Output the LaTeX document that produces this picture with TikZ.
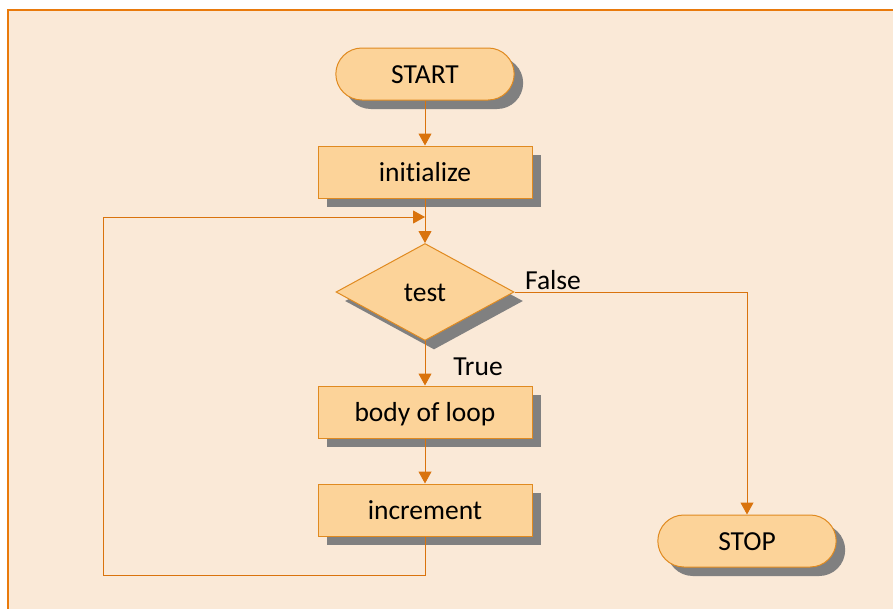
\documentclass[tikz,border=0pt]{standalone}
\usepackage{fontspec}
\setmainfont{Carlito}[Ligatures=NoCommon]
\usetikzlibrary{shapes.geometric,shapes.misc,shadows,arrows.meta}
\definecolor{bgpeach}{HTML}{FAE9D7}
\definecolor{framecol}{HTML}{E97A0C}
\definecolor{nodefill}{HTML}{FCD399}
\definecolor{nodeline}{HTML}{E08A20}
\definecolor{flowcol}{HTML}{D9730D}
\definecolor{shadowgray}{HTML}{808080}
\begin{document}
\begin{tikzpicture}[x=1pt,y=-1pt,
  font=\fontsize{27.5}{32}\selectfont,
  shade/.style={drop shadow={shadow xshift=9pt,shadow yshift=-9pt,fill=shadowgray,opacity=1}},
  base/.style={draw=nodeline,fill=nodefill,line width=1pt,text height=21pt,text depth=3pt,shade},
  box/.style={base,rectangle,minimum width=214pt,minimum height=52pt},
  term/.style={base,rounded rectangle,minimum width=185pt,minimum height=52pt},
  choice/.style={base,diamond,inner sep=0pt,minimum width=178pt,minimum height=97pt},
  flow/.style={draw=flowcol,line width=1pt,-{Triangle[length=12pt,width=13pt]}},
  wire/.style={draw=flowcol,line width=1pt}]
\useasboundingbox (0,0) rectangle (893,608);
\draw[draw=framecol,line width=1.5pt,fill=bgpeach] (8,10) rectangle (910,625);
% nodes
\node[term] (start) at (425,74) {START};
\node[box] (init) at (425,172) {initialize};
\node[choice] (test) at (425,292) {test};
\node[box] (body) at (425,412) {body of loop};
\node[box] (incr) at (425,510) {increment};
\node[term] (stop) at (747,541) {STOP};
\node (false) at (553,280) {False};
\node (true) at (478,367) {True};
\coordinate (join) at (425,217);
\coordinate (back) at (103,575);
% connectors
\draw[flow] (start.south) -- (init.north);
\draw[flow] (init.south) -- (test.north);
\draw[flow] (test.south) -- (body.north);
\draw[flow] (body.south) -- (incr.north);
\draw[flow] (test.east) -| (stop.north);
\draw[wire] (incr.south) |- (back);
\draw[flow] (back) |- (join);
\end{tikzpicture}
\end{document}
